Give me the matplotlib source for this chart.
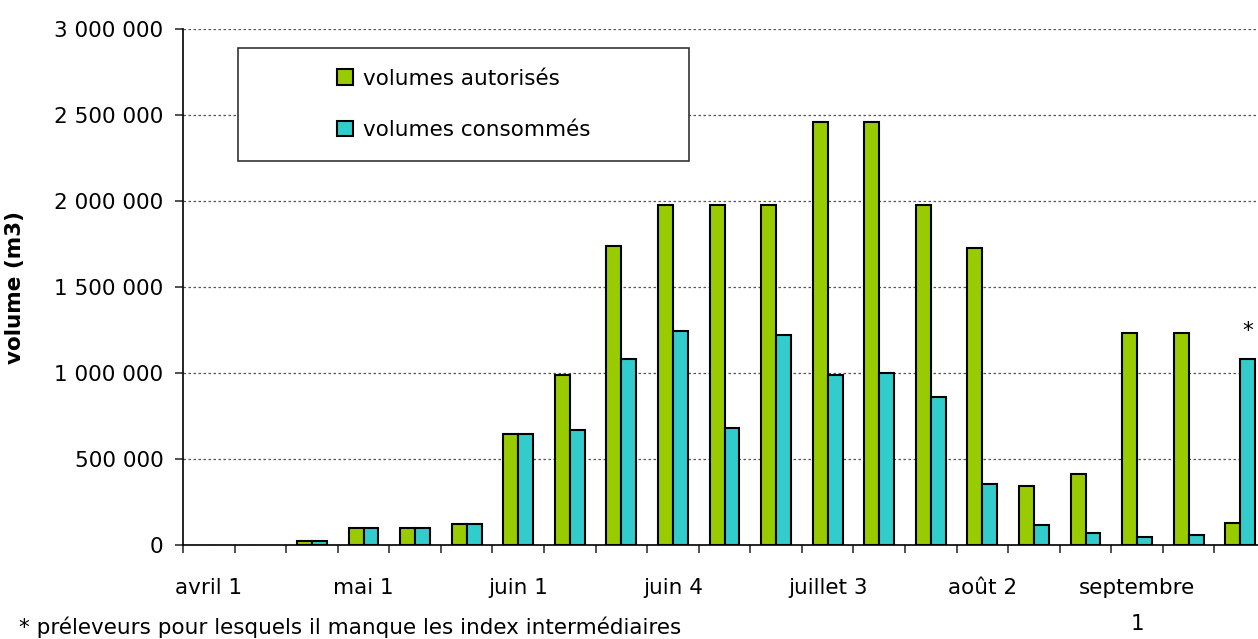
import matplotlib.pyplot as plt
from matplotlib.patches import Rectangle
from matplotlib.ticker import FuncFormatter, MultipleLocator
import numpy as np

# ---- data ----
categories = ["avril 1", "avril 2", "avril 3", "mai 1", "mai 2", "mai 3",
              "juin 1", "juin 2", "juin 3", "juin 4",
              "juillet 1", "juillet 2", "juillet 3", "juillet 4",
              "août 1", "août 2", "août 3", "août 4",
              "septembre 1", "septembre 2", "septembre 3"]
autorises = [0, 0, 25000, 100000, 100000, 125000, 645000, 988000, 1738000,
             1977000, 1977000, 1977000, 2461000, 2461000, 1977000, 1725000,
             345000, 415000, 1231000, 1231000, 126000]
consommes = [0, 0, 25000, 100000, 100000, 125000, 645000, 667000, 1081000,
             1242000, 678000, 1219000, 987000, 998000, 862000, 355000,
             114000, 70000, 46000, 56000, 1081000]
label_every = 3
star_index = 20
footnote = "* préleveurs pour lesquels il manque les index intermédiaires"

GREEN = "#99CC00"
CYAN = "#33CCCC"
FS = 15.5

plt.rcParams['font.family'] = ['DejaVu Sans']

fig = plt.figure(figsize=(12.58, 6.39), dpi=100)
ax = fig.add_axes([183 / 1258, 1 - 545 / 639, 1083 / 1258, 516 / 639])

x = np.arange(len(categories))
w = 0.29

def edges(vals):
    # empty weeks get no outline, like the reference
    return ["black" if v > 0 else "none" for v in vals]

ax.bar(x - w / 2, autorises, width=w, color=GREEN, edgecolor=edges(autorises),
       linewidth=1.5, label="volumes autorisés", zorder=3)
ax.bar(x + w / 2, consommes, width=w, color=CYAN, edgecolor=edges(consommes),
       linewidth=1.5, label="volumes consommés", zorder=3)

ax.annotate("*", (x[star_index] + w / 2, consommes[star_index]),
            xytext=(0, 13), textcoords="offset points", ha="center",
            va="bottom", fontsize=FS)

# axes
ax.set_xlim(-0.5, len(categories) - 0.5)
ax.set_ylim(0, 3000000)
ax.yaxis.set_major_locator(MultipleLocator(500000))
ax.yaxis.set_major_formatter(FuncFormatter(lambda v, p: f"{int(v):,}".replace(",", " ")))
ax.grid(axis="y", linestyle=(0, (2, 2)), color="#555555", linewidth=0.9, zorder=0)

def wrap(s):
    return s.replace(" ", "\n") if len(s) > 10 else s

shown = x[::label_every]
ax.set_xticks(shown)
ax.set_xticklabels([wrap(categories[i]) for i in shown], fontsize=FS,
                   linespacing=2.0)
ax.set_xticks(np.arange(len(categories) + 1) - 0.5, minor=True)
ax.tick_params(axis="x", which="major", length=0, pad=24)
ax.tick_params(axis="x", which="minor", length=6, width=1.2, color="#333333")
ax.tick_params(axis="y", length=6, width=1.2, pad=8, labelsize=FS, color="#333333")

for s in ["top", "right"]:
    ax.spines[s].set_visible(False)
ax.spines["left"].set_linewidth(1.2)
ax.spines["bottom"].set_linewidth(1.2)

ax.set_ylabel("volume (m3)", fontsize=FS, fontweight="bold")
ax.yaxis.set_label_coords(-0.146, 0.5)

# legend inside a framed box
bx0, by0 = (238 - 183) / 1083, (545 - 161) / 516
bw, bh = (689 - 238) / 1083, (161 - 48) / 516
ax.add_patch(Rectangle((bx0, by0), bw, bh, transform=ax.transAxes,
                       facecolor="white", edgecolor="#333333", linewidth=1.2,
                       zorder=4))
leg = ax.legend(loc="center", bbox_to_anchor=(bx0 + bw / 2, by0 + bh / 2),
                frameon=False, fontsize=FS, handlelength=0.75,
                handleheight=0.75, handletextpad=0.45, labelspacing=1.45)
leg.set_zorder(5)
for h in leg.legend_handles:
    h.set_edgecolor("black")
    h.set_linewidth(1.5)

fig.text(19 / 1258, 1 - 616 / 639, footnote, fontsize=FS, va="top", ha="left")

fig.savefig("out.png", dpi=100)
